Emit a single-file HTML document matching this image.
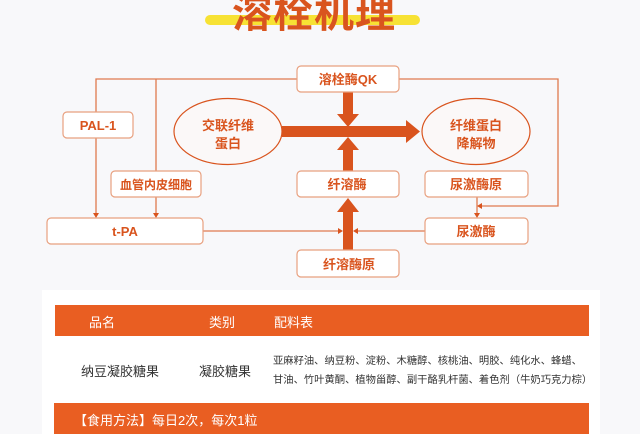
<!DOCTYPE html>
<html><head><meta charset="utf-8"><style>
body{margin:0;width:640px;height:434px;overflow:hidden;background:#f8f8fa;font-family:"Liberation Sans","Noto Sans CJK SC",sans-serif;position:relative}
.t{position:absolute;white-space:nowrap}
</style></head><body>
<div style="position:absolute;left:205px;top:15px;width:215px;height:10px;background:#f7e234;border-radius:5px"></div>
<div class="t" style="left:232px;top:-19px;font-size:40px;font-weight:bold;color:#d9541e;letter-spacing:1px">溶栓机理</div>
<svg width="640" height="290" style="position:absolute;left:0;top:0" font-family="Liberation Sans, Noto Sans CJK SC, sans-serif">
<g fill="none" stroke="#e07a4f" stroke-width="1.3">
<polyline points="297,79 96,79 96,112"/>
<line x1="96" y1="138" x2="96" y2="214"/>
<line x1="156" y1="79" x2="156" y2="171"/>
<line x1="156" y1="197" x2="156" y2="214"/>
<polyline points="399,79 558,79 558,206 481,206"/>
<line x1="477" y1="197" x2="477" y2="214"/>
<line x1="203" y1="231" x2="340" y2="231"/>
<line x1="425" y1="231" x2="356" y2="231"/>
</g>
<g fill="#d9541e">
<polygon points="93,213 99,213 96,218"/>
<polygon points="153,213 159,213 156,218"/>
<polygon points="474,213 480,213 477,218"/>
<polygon points="482,203 482,209 477,206"/>
<polygon points="338,228 338,234 343,231"/>
<polygon points="358,228 358,234 353,231"/>
<rect x="282" y="126" width="126" height="11"/>
<polygon points="406,120 420,131.5 406,143"/>
<rect x="343" y="92" width="10" height="24"/>
<polygon points="337,114 359,114 348,127"/>
<rect x="343" y="148" width="10" height="23"/>
<polygon points="337,150 359,150 348,137"/>
<rect x="343" y="211" width="10" height="39"/>
<polygon points="337,212 359,212 348,198"/>
</g>
<g fill="#fff" stroke="#e8a07f" stroke-width="1.2">
<rect x="297" y="66" width="102" height="26" rx="4"/>
<rect x="63" y="112" width="70" height="26" rx="4"/>
<rect x="111" y="171" width="90" height="26" rx="4"/>
<rect x="47" y="218" width="156" height="26" rx="4"/>
<rect x="297" y="171" width="102" height="26" rx="4"/>
<rect x="425" y="171" width="103" height="26" rx="4"/>
<rect x="425" y="218" width="103" height="26" rx="4"/>
<rect x="297" y="250" width="102" height="27" rx="4"/>
</g>
<g fill="#fbf8f8" stroke="#d9541e" stroke-width="1.2">
<ellipse cx="228" cy="131.5" rx="54" ry="33"/>
<ellipse cx="476" cy="131.5" rx="54" ry="33"/>
</g>
<g fill="#d9541e" font-weight="bold" font-size="13" text-anchor="middle">
<text x="348" y="84">溶栓酶QK</text>
<text x="98" y="130">PAL-1</text>
<text x="156" y="189" font-size="12">血管内皮细胞</text>
<text x="125" y="236">t-PA</text>
<text x="347" y="189">纤溶酶</text>
<text x="476" y="189">尿激酶原</text>
<text x="476" y="236">尿激酶</text>
<text x="349" y="269">纤溶酶原</text>
<text x="228" y="130">交联纤维</text>
<text x="228" y="148">蛋白</text>
<text x="476" y="130">纤维蛋白</text>
<text x="476" y="148">降解物</text>
</g>
</svg>
<div style="position:absolute;left:42px;top:290px;width:558px;height:144px;background:#fff"></div>
<div style="position:absolute;left:55px;top:305px;width:534px;height:31px;background:#e95e22"></div>
<div class="t" style="left:89px;top:312px;font-size:13px;color:#fff">品名</div>
<div class="t" style="left:209px;top:312px;font-size:13px;color:#fff">类别</div>
<div class="t" style="left:274px;top:312px;font-size:13px;color:#fff">配料表</div>
<div class="t" style="left:81px;top:361px;font-size:13px;color:#333">纳豆凝胶糖果</div>
<div class="t" style="left:199px;top:361px;font-size:13px;color:#333">凝胶糖果</div>
<div class="t" style="left:273px;top:352px;font-size:10.3px;color:#333;line-height:19px">亚麻籽油、纳豆粉、淀粉、木糖醇、核桃油、明胶、纯化水、蜂蜡、<br>甘油、竹叶黄酮、植物甾醇、副干酪乳杆菌、着色剂（牛奶巧克力棕）</div>
<div style="position:absolute;left:54px;top:403px;width:535px;height:31px;background:#e95e22"></div>
<div class="t" style="left:74px;top:410px;font-size:13px;color:#fff">【食用方法】每日2次，每次1粒</div>
</body></html>
